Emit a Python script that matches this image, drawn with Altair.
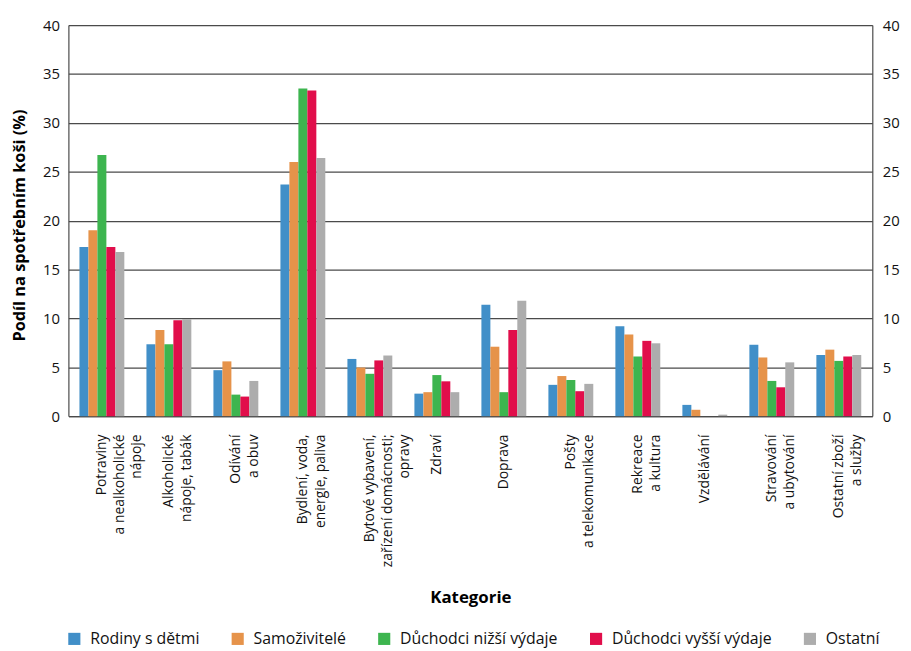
import altair as alt
import pandas as pd

categories = [
    "Potraviny|a nealkoholické|nápoje",
    "Alkoholické|nápoje, tabák",
    "Odívání|a obuv",
    "Bydlení, voda,|energie, paliva",
    "Bytové vybavení,|zařízení domácnosti;|opravy",
    "Zdraví",
    "Doprava",
    "Pošty|a telekomunikace",
    "Rekreace|a kultura",
    "Vzdělávání",
    "Stravování|a ubytování",
    "Ostatní zboží|a služby",
]
series = ["Rodiny s dětmi", "Samoživitelé", "Důchodci nižší výdaje",
          "Důchodci vyšší výdaje", "Ostatní"]
colors = ["#418FC8", "#E6934A", "#3DB54F", "#E10E4B", "#ADADAD"]

rodiny = [17.3, 7.35, 4.7, 23.7, 5.85, 2.3, 11.4, 3.2, 9.2, 1.15, 7.3, 6.25]
samozivitele = [19.0, 8.8, 5.6, 26.0, 4.97, 2.45, 7.1, 4.1, 8.35, 0.65, 6.0, 6.8]
duchodci_nizsi = [26.7, 7.35, 2.2, 33.5, 4.33, 4.2, 2.45, 3.7, 6.1, 0.0, 3.6, 5.65]
duchodci_vyssi = [17.3, 9.8, 2.0, 33.3, 5.7, 3.56, 8.8, 2.55, 7.7, 0.0, 2.95, 6.1]
ostatni = [16.8, 9.9, 3.6, 26.4, 6.2, 2.45, 11.8, 3.3, 7.45, 0.15, 5.5, 6.25]

all_values = [rodiny, samozivitele, duchodci_nizsi, duchodci_vyssi, ostatni]
rows = []
for s, vals in zip(series, all_values):
    for c, v in zip(categories, vals):
        rows.append({"Kategorie": c, "Skupina": s, "Hodnota": v})
df = pd.DataFrame(rows)

FONT = "Open Sans"
GRID = "#4a4a4a"

x_enc = alt.X(
    "Kategorie:N", sort=categories,
    scale=alt.Scale(paddingInner=0.33, paddingOuter=0.165),
    axis=alt.Axis(
        title="Kategorie", labelAngle=270, labelAlign="right", labelBaseline="middle",
        labelExpr="split(datum.label, '|')", labelFontSize=14, labelLineHeight=18,
        labelPadding=18, ticks=False, domainColor=GRID, labelColor="#111",
        titleFontSize=17, titleFontWeight="bold", titleY=183, titleBaseline="middle",
        labelLimit=300,
    ),
)
y_scale = alt.Scale(domain=[0, 40], nice=False)

bars = alt.Chart(df).mark_bar().encode(
    x=x_enc,
    xOffset=alt.XOffset("Skupina:N", sort=series, scale=alt.Scale(paddingInner=0, paddingOuter=0)),
    y=alt.Y("Hodnota:Q", scale=y_scale, axis=alt.Axis(
        title="Podíl na spotřebním koši (%)", values=list(range(0, 41, 5)),
        grid=True, gridColor=GRID, gridWidth=1.2, ticks=False, domainColor=GRID,
        labelFontSize=15, labelPadding=9, labelColor="#111",
        titleFontSize=16.5, titleFontWeight="bold", titleX=-49, titleY=202,
        titleBaseline="middle", titleAngle=270,
    )),
    color=alt.Color("Skupina:N", sort=series,
                    scale=alt.Scale(domain=series, range=colors),
                    legend=alt.Legend(title=None, orient="none", direction="horizontal",
                                      legendX=-2, legendY=612, symbolType="square",
                                      symbolSize=150, symbolStrokeWidth=0, labelFontSize=16,
                                      columnPadding=30, labelOffset=8, labelColor="#111",
                                      labelLimit=400, columns=5)),
)

right = alt.Chart(df).mark_point(opacity=0).encode(
    y=alt.Y("Hodnota:Q", scale=y_scale, axis=alt.Axis(
        orient="right", title=None, values=list(range(0, 41, 5)), grid=False,
        ticks=False, domainColor=GRID, labelFontSize=15, labelPadding=10,
        labelColor="#111",
    )),
)

chart = alt.layer(bars, right).resolve_axis(y="independent").properties(
    width=812, height=395,
    autosize=alt.AutoSizeParams(type="none"),
    padding={"left": 61, "top": 14, "right": 31, "bottom": 234},
).configure(font=FONT).configure_view(stroke=None).configure_axis(domainWidth=1.2)

chart.save("out.html", embed_options={"renderer": "svg", "actions": False})
